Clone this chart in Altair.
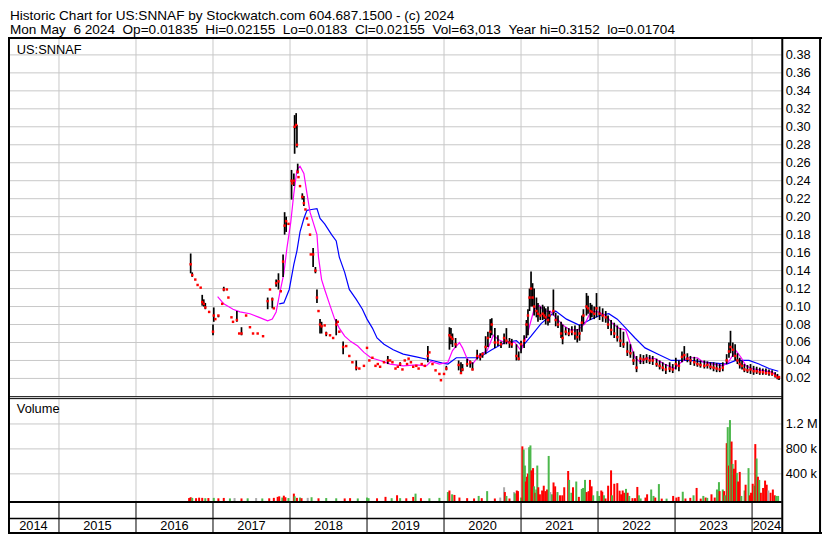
import altair as alt
import pandas as pd

# ---------------- text ----------------
TITLE_LINE_1 = "Historic Chart for US:SNNAF by Stockwatch.com 604.687.1500 - (c) 2024"
TITLE_LINE_2 = ("Mon May  6 2024  Op=0.01835  Hi=0.02155  Lo=0.0183  Cl=0.02155  "
                "Vol=63,013  Year hi=0.3152  lo=0.01704")
SYMBOL = "US:SNNAF"
VOLUME_TITLE = "Volume"

# ---------------- axes ----------------
TIME_DOMAIN = [2014.338, 2024.386]          # decimal years shown (May 2014 - May 2024)
YEARS = [2014, 2015, 2016, 2017, 2018, 2019, 2020, 2021, 2022, 2023, 2024]
PRICE_TICKS = [0.02, 0.04, 0.06, 0.08, 0.10, 0.12, 0.14, 0.16, 0.18, 0.20,
               0.22, 0.24, 0.26, 0.28, 0.30, 0.32, 0.34, 0.36, 0.38]
PRICE_MAX = 0.3987
VOLUME_TICKS = [400000, 800000, 1200000]
VOLUME_TICK_LABELS = ["400 k", "800 k", "1.2 M"]
VOLUME_MAX = 1598000

# ---------------- price bars: (year, high, low, close) ----------------
PRICE_2016 = [
    (2016.71, 0.159, 0.137, 0.147), (2016.73, 0.138, 0.133, 0.135), (2016.77, 0.130, 0.130, 0.130),
    (2016.80, 0.124, 0.124, 0.124), (2016.84, 0.121, 0.121, 0.121), (2016.86, 0.113, 0.101, 0.105),
    (2016.88, 0.108, 0.100, 0.103), (2016.90, 0.104, 0.097, 0.099), (2016.95, 0.094, 0.094, 0.094),
]
PRICE_2017 = [
    (2017.00, 0.080, 0.068, 0.072), (2017.01, 0.099, 0.083, 0.090), (2017.03, 0.086, 0.086, 0.086),
    (2017.07, 0.090, 0.088, 0.090), (2017.12, 0.103, 0.103, 0.103), (2017.14, 0.122, 0.117, 0.119),
    (2017.18, 0.119, 0.119, 0.119), (2017.20, 0.110, 0.110, 0.110), (2017.24, 0.088, 0.088, 0.088),
    (2017.26, 0.083, 0.083, 0.083), (2017.31, 0.095, 0.083, 0.085), (2017.34, 0.070, 0.070, 0.070),
    (2017.37, 0.077, 0.068, 0.070), (2017.43, 0.090, 0.090, 0.090), (2017.48, 0.077, 0.077, 0.077),
    (2017.52, 0.070, 0.070, 0.070), (2017.58, 0.070, 0.070, 0.070), (2017.65, 0.067, 0.067, 0.067),
    (2017.71, 0.110, 0.097, 0.106), (2017.74, 0.119, 0.119, 0.119), (2017.77, 0.110, 0.098, 0.108),
    (2017.79, 0.098, 0.098, 0.098), (2017.82, 0.130, 0.122, 0.126), (2017.85, 0.137, 0.119, 0.128),
    (2017.88, 0.117, 0.117, 0.117), (2017.91, 0.158, 0.133, 0.150), (2017.93, 0.205, 0.180, 0.190),
    (2017.95, 0.200, 0.183, 0.195), (2017.98, 0.192, 0.192, 0.192),
]
PRICE_2018 = [
    (2018.02, 0.252, 0.219, 0.240), (2018.03, 0.237, 0.237, 0.237), (2018.05, 0.248, 0.234, 0.240),
    (2018.06, 0.313, 0.270, 0.300), (2018.08, 0.3152, 0.298, 0.302), (2018.09, 0.302, 0.277, 0.280),
    (2018.10, 0.259, 0.248, 0.250), (2018.11, 0.244, 0.244, 0.244), (2018.13, 0.234, 0.234, 0.234),
    (2018.16, 0.226, 0.219, 0.222), (2018.18, 0.223, 0.212, 0.215), (2018.20, 0.208, 0.208, 0.208),
    (2018.22, 0.198, 0.198, 0.198), (2018.24, 0.191, 0.191, 0.191), (2018.26, 0.180, 0.180, 0.180),
    (2018.27, 0.158, 0.158, 0.158), (2018.30, 0.165, 0.144, 0.158), (2018.33, 0.144, 0.137, 0.140),
    (2018.35, 0.119, 0.104, 0.110), (2018.37, 0.095, 0.095, 0.095), (2018.39, 0.086, 0.070, 0.080),
    (2018.41, 0.083, 0.070, 0.078), (2018.45, 0.079, 0.079, 0.079), (2018.47, 0.072, 0.067, 0.070),
    (2018.52, 0.068, 0.068, 0.068), (2018.56, 0.065, 0.065, 0.065), (2018.60, 0.086, 0.068, 0.080),
    (2018.62, 0.083, 0.083, 0.083), (2018.64, 0.072, 0.072, 0.072), (2018.69, 0.061, 0.047, 0.055),
    (2018.73, 0.056, 0.056, 0.056), (2018.77, 0.045, 0.045, 0.045), (2018.81, 0.038, 0.038, 0.038),
    (2018.86, 0.040, 0.029, 0.032), (2018.90, 0.031, 0.031, 0.031), (2018.96, 0.034, 0.034, 0.034),
]
PRICE_2019 = [
    (2019.00, 0.054, 0.054, 0.054), (2019.03, 0.040, 0.040, 0.040), (2019.07, 0.043, 0.043, 0.043),
    (2019.11, 0.034, 0.034, 0.034), (2019.14, 0.036, 0.036, 0.036), (2019.17, 0.033, 0.033, 0.033),
    (2019.22, 0.038, 0.038, 0.038), (2019.27, 0.045, 0.036, 0.040), (2019.30, 0.040, 0.040, 0.040),
    (2019.33, 0.038, 0.038, 0.038), (2019.37, 0.031, 0.031, 0.031), (2019.40, 0.033, 0.033, 0.033),
    (2019.43, 0.038, 0.034, 0.036), (2019.46, 0.030, 0.030, 0.030), (2019.49, 0.040, 0.040, 0.040),
    (2019.52, 0.036, 0.036, 0.036), (2019.54, 0.042, 0.042, 0.042), (2019.57, 0.038, 0.038, 0.038),
    (2019.60, 0.033, 0.033, 0.033), (2019.64, 0.034, 0.034, 0.034), (2019.67, 0.031, 0.031, 0.031),
    (2019.71, 0.036, 0.036, 0.036), (2019.75, 0.034, 0.034, 0.034), (2019.79, 0.056, 0.038, 0.045),
    (2019.81, 0.049, 0.049, 0.049), (2019.85, 0.036, 0.036, 0.036), (2019.89, 0.029, 0.029, 0.029),
    (2019.94, 0.025, 0.025, 0.025), (2019.96, 0.018, 0.018, 0.018),
]
PRICE_2020 = [
    (2020.00, 0.025, 0.025, 0.025), (2020.03, 0.034, 0.029, 0.031), (2020.07, 0.077, 0.052, 0.068),
    (2020.09, 0.076, 0.058, 0.066), (2020.11, 0.070, 0.055, 0.064), (2020.15, 0.065, 0.054, 0.058),
    (2020.19, 0.040, 0.029, 0.035), (2020.22, 0.038, 0.025, 0.026), (2020.24, 0.036, 0.028, 0.030),
    (2020.30, 0.042, 0.033, 0.036), (2020.34, 0.040, 0.032, 0.038), (2020.37, 0.038, 0.029, 0.030),
    (2020.43, 0.052, 0.041, 0.045), (2020.47, 0.048, 0.040, 0.044), (2020.50, 0.049, 0.043, 0.047),
    (2020.54, 0.067, 0.047, 0.055), (2020.57, 0.072, 0.055, 0.065), (2020.60, 0.086, 0.065, 0.072),
    (2020.62, 0.087, 0.068, 0.080), (2020.66, 0.076, 0.054, 0.060), (2020.70, 0.068, 0.056, 0.060),
    (2020.74, 0.061, 0.054, 0.058), (2020.78, 0.070, 0.058, 0.065), (2020.81, 0.076, 0.058, 0.062),
    (2020.85, 0.065, 0.054, 0.060), (2020.88, 0.064, 0.054, 0.058), (2020.94, 0.058, 0.040, 0.045),
    (2020.97, 0.050, 0.040, 0.042),
]
PRICE_2021 = [
    (2021.00, 0.062, 0.048, 0.058), (2021.04, 0.068, 0.054, 0.062), (2021.07, 0.085, 0.065, 0.080),
    (2021.09, 0.097, 0.068, 0.090), (2021.11, 0.120, 0.095, 0.110), (2021.13, 0.139, 0.100, 0.120),
    (2021.15, 0.126, 0.100, 0.110), (2021.17, 0.120, 0.090, 0.100), (2021.20, 0.110, 0.088, 0.095),
    (2021.22, 0.104, 0.083, 0.092), (2021.25, 0.100, 0.085, 0.090), (2021.28, 0.102, 0.085, 0.092),
    (2021.30, 0.100, 0.086, 0.090), (2021.32, 0.098, 0.080, 0.088), (2021.35, 0.100, 0.079, 0.085),
    (2021.37, 0.095, 0.082, 0.090), (2021.42, 0.119, 0.090, 0.095), (2021.45, 0.093, 0.078, 0.085),
    (2021.48, 0.090, 0.076, 0.080), (2021.52, 0.083, 0.065, 0.070), (2021.54, 0.080, 0.058, 0.065),
    (2021.58, 0.077, 0.068, 0.072), (2021.62, 0.076, 0.067, 0.070), (2021.66, 0.078, 0.068, 0.072),
    (2021.70, 0.079, 0.063, 0.070), (2021.73, 0.075, 0.060, 0.066), (2021.76, 0.080, 0.062, 0.070),
    (2021.79, 0.090, 0.072, 0.082), (2021.81, 0.097, 0.080, 0.090), (2021.85, 0.115, 0.090, 0.100),
    (2021.87, 0.112, 0.092, 0.098), (2021.90, 0.104, 0.085, 0.095), (2021.92, 0.102, 0.088, 0.094),
    (2021.95, 0.100, 0.086, 0.092), (2021.98, 0.115, 0.088, 0.098),
]
PRICE_2022 = [
    (2022.02, 0.100, 0.085, 0.092), (2022.06, 0.098, 0.083, 0.090), (2022.10, 0.095, 0.082, 0.088),
    (2022.13, 0.090, 0.075, 0.080), (2022.17, 0.085, 0.068, 0.074), (2022.21, 0.082, 0.065, 0.070),
    (2022.25, 0.079, 0.061, 0.066), (2022.29, 0.076, 0.055, 0.062), (2022.33, 0.072, 0.054, 0.058),
    (2022.38, 0.061, 0.045, 0.050), (2022.42, 0.058, 0.043, 0.048), (2022.46, 0.050, 0.035, 0.040),
    (2022.50, 0.045, 0.027, 0.032), (2022.55, 0.047, 0.036, 0.042), (2022.59, 0.046, 0.036, 0.041),
    (2022.63, 0.047, 0.037, 0.042), (2022.67, 0.046, 0.036, 0.040), (2022.71, 0.045, 0.035, 0.040),
    (2022.76, 0.042, 0.033, 0.036), (2022.80, 0.040, 0.030, 0.034), (2022.84, 0.038, 0.028, 0.032),
    (2022.88, 0.036, 0.025, 0.030), (2022.93, 0.038, 0.027, 0.031), (2022.97, 0.036, 0.026, 0.030),
]
PRICE_2023 = [
    (2023.01, 0.043, 0.030, 0.036), (2023.05, 0.040, 0.028, 0.034), (2023.09, 0.050, 0.038, 0.044),
    (2023.12, 0.056, 0.040, 0.046), (2023.16, 0.048, 0.038, 0.042), (2023.20, 0.045, 0.035, 0.040),
    (2023.25, 0.044, 0.034, 0.038), (2023.29, 0.042, 0.033, 0.036), (2023.33, 0.040, 0.032, 0.035),
    (2023.38, 0.040, 0.031, 0.034), (2023.42, 0.039, 0.031, 0.035), (2023.46, 0.038, 0.030, 0.033),
    (2023.50, 0.038, 0.028, 0.032), (2023.54, 0.037, 0.027, 0.031), (2023.58, 0.036, 0.027, 0.030),
    (2023.62, 0.038, 0.028, 0.032), (2023.67, 0.047, 0.036, 0.040), (2023.70, 0.060, 0.043, 0.050),
    (2023.72, 0.073, 0.048, 0.055), (2023.75, 0.060, 0.044, 0.052), (2023.78, 0.058, 0.040, 0.045),
    (2023.81, 0.048, 0.036, 0.040), (2023.84, 0.043, 0.031, 0.036), (2023.87, 0.040, 0.030, 0.034),
    (2023.90, 0.036, 0.027, 0.030), (2023.94, 0.035, 0.026, 0.029), (2023.98, 0.036, 0.025, 0.030),
]
PRICE_2024 = [
    (2024.02, 0.034, 0.024, 0.028), (2024.06, 0.033, 0.025, 0.028), (2024.10, 0.032, 0.024, 0.027),
    (2024.14, 0.031, 0.024, 0.027), (2024.18, 0.031, 0.024, 0.026), (2024.22, 0.030, 0.023, 0.026),
    (2024.26, 0.029, 0.023, 0.025), (2024.30, 0.027, 0.021, 0.023), (2024.33, 0.025, 0.019, 0.021),
    (2024.35, 0.02155, 0.0183, 0.02155),
]

# ---------------- moving averages: (year, value) ----------------
MA_SHORT = [
    (2017.06, 0.111), (2017.14, 0.103), (2017.26, 0.097), (2017.35, 0.094), (2017.48, 0.092),
    (2017.60, 0.088), (2017.71, 0.084), (2017.77, 0.086), (2017.82, 0.094), (2017.86, 0.112),
    (2017.92, 0.137), (2017.96, 0.165), (2018.01, 0.194), (2018.05, 0.226), (2018.09, 0.252),
    (2018.13, 0.256), (2018.18, 0.248), (2018.22, 0.226), (2018.26, 0.205), (2018.30, 0.194),
    (2018.35, 0.180), (2018.37, 0.155), (2018.41, 0.130), (2018.45, 0.119), (2018.52, 0.101),
    (2018.58, 0.086), (2018.64, 0.076), (2018.71, 0.067), (2018.79, 0.061), (2018.88, 0.056),
    (2018.96, 0.049), (2019.05, 0.043), (2019.17, 0.040), (2019.30, 0.036), (2019.47, 0.034),
    (2019.64, 0.035), (2019.77, 0.034), (2019.83, 0.039), (2019.94, 0.036), (2020.05, 0.038),
    (2020.11, 0.051), (2020.20, 0.060), (2020.24, 0.054), (2020.30, 0.042), (2020.37, 0.036),
    (2020.45, 0.045), (2020.56, 0.051), (2020.64, 0.068), (2020.71, 0.063), (2020.79, 0.060),
    (2020.92, 0.060), (2021.00, 0.051), (2021.09, 0.072), (2021.17, 0.097), (2021.24, 0.101),
    (2021.30, 0.095), (2021.38, 0.095), (2021.47, 0.086), (2021.55, 0.079), (2021.64, 0.074),
    (2021.74, 0.074), (2021.83, 0.081), (2021.91, 0.095), (2022.00, 0.094), (2022.10, 0.090),
    (2022.19, 0.081), (2022.27, 0.076), (2022.36, 0.074), (2022.42, 0.058), (2022.48, 0.043),
    (2022.55, 0.038), (2022.63, 0.043), (2022.74, 0.042), (2022.86, 0.036), (2022.99, 0.031),
    (2023.05, 0.036), (2023.16, 0.043), (2023.29, 0.043), (2023.37, 0.038), (2023.50, 0.036),
    (2023.62, 0.034), (2023.69, 0.038), (2023.79, 0.051), (2023.86, 0.043), (2023.92, 0.034),
    (2024.00, 0.031), (2024.13, 0.029), (2024.26, 0.027), (2024.34, 0.022),
]
MA_LONG = [
    (2017.86, 0.103), (2017.92, 0.104), (2017.99, 0.119), (2018.05, 0.147), (2018.09, 0.162),
    (2018.13, 0.183), (2018.18, 0.198), (2018.22, 0.207), (2018.28, 0.208), (2018.35, 0.209),
    (2018.39, 0.198), (2018.45, 0.192), (2018.54, 0.180), (2018.60, 0.173), (2018.64, 0.155),
    (2018.71, 0.138), (2018.77, 0.119), (2018.86, 0.108), (2018.94, 0.097), (2019.00, 0.086),
    (2019.07, 0.076), (2019.13, 0.065), (2019.22, 0.058), (2019.34, 0.052), (2019.47, 0.047),
    (2019.64, 0.044), (2019.85, 0.040), (2019.98, 0.037), (2020.05, 0.036), (2020.16, 0.043),
    (2020.45, 0.043), (2020.62, 0.052), (2020.79, 0.060), (2020.94, 0.062), (2021.02, 0.056),
    (2021.13, 0.067), (2021.26, 0.081), (2021.45, 0.095), (2021.59, 0.086), (2021.76, 0.079),
    (2021.89, 0.085), (2022.02, 0.090), (2022.14, 0.092), (2022.25, 0.086), (2022.36, 0.076),
    (2022.48, 0.065), (2022.61, 0.054), (2022.78, 0.047), (2022.95, 0.040), (2023.20, 0.040),
    (2023.41, 0.038), (2023.67, 0.036), (2023.79, 0.040), (2023.96, 0.040), (2024.09, 0.036),
    (2024.22, 0.031), (2024.34, 0.028),
]

# ---------------- volume: (year, shares, direction u=up d=down n=unchanged) ----------------
VOLUME_2016_2019 = [
    (2016.69, 12000, "d"), (2016.71, 25000, "d"), (2016.73, 15000, "u"), (2016.78, 10000, "d"),
    (2016.82, 18000, "d"), (2016.86, 15000, "d"), (2016.90, 10000, "u"), (2016.94, 12000, "d"),
    (2017.01, 15000, "u"), (2017.07, 8000, "d"), (2017.14, 14000, "d"), (2017.22, 6000, "u"),
    (2017.28, 12000, "n"), (2017.37, 6000, "d"), (2017.45, 8000, "u"), (2017.56, 12000, "n"),
    (2017.64, 6000, "u"), (2017.73, 8000, "d"), (2017.79, 15000, "d"), (2017.84, 31000, "d"),
    (2017.86, 40000, "d"), (2017.90, 20000, "u"), (2017.92, 50000, "d"), (2017.94, 25000, "d"),
    (2017.98, 12000, "u"), (2018.05, 83000, "d"), (2018.06, 40000, "u"), (2018.09, 15000, "d"),
    (2018.13, 20000, "u"), (2018.15, 10000, "d"), (2018.23, 15000, "n"), (2018.28, 25000, "u"),
    (2018.37, 8000, "d"), (2018.47, 12000, "u"), (2018.60, 8000, "u"), (2018.71, 6000, "d"),
    (2018.78, 10000, "d"), (2018.88, 6000, "u"), (2019.00, 20000, "u"), (2019.02, 10000, "u"),
    (2019.13, 8000, "d"), (2019.24, 31000, "d"), (2019.32, 10000, "u"), (2019.39, 57000, "d"),
    (2019.43, 10000, "u"), (2019.51, 8000, "d"), (2019.60, 30000, "d"), (2019.63, 83000, "u"),
    (2019.70, 10000, "d"), (2019.81, 8000, "u"), (2019.94, 15000, "u"),
]
VOLUME_2020 = [
    (2020.05, 108000, "u"), (2020.07, 133000, "d"), (2020.105, 72000, "u"), (2020.135, 62000, "d"),
    (2020.20, 20000, "d"), (2020.30, 10000, "d"), (2020.39, 6000, "d"), (2020.45, 46000, "u"),
    (2020.49, 10000, "d"), (2020.56, 123000, "u"), (2020.66, 5000, "d"), (2020.73, 20000, "n"),
    (2020.78, 185000, "n"), (2020.79, 108000, "d"), (2020.81, 46000, "u"), (2020.85, 5000, "d"),
    (2020.91, 108000, "n"), (2020.92, 87000, "u"), (2020.945, 133000, "d"), (2020.96, 123000, "d"),
    (2021.00, 20000, "u"),
]
VOLUME_2021 = [
    (2021.017, 841000, "d"), (2021.034, 790000, "u"), (2021.05, 533000, "u"), (2021.063, 277000, "d"),
    (2021.076, 354000, "d"), (2021.089, 405000, "d"), (2021.105, 826000, "u"), (2021.122, 856000, "u"),
    (2021.135, 456000, "d"), (2021.156, 492000, "d"), (2021.169, 200000, "u"), (2021.186, 97000, "d"),
    (2021.198, 149000, "u"), (2021.211, 533000, "u"), (2021.224, 185000, "d"), (2021.245, 72000, "d"),
    (2021.274, 133000, "d"), (2021.295, 210000, "d"), (2021.316, 123000, "d"), (2021.338, 149000, "d"),
    (2021.359, 687000, "u"), (2021.38, 108000, "n"), (2021.401, 72000, "u"), (2021.422, 262000, "d"),
    (2021.443, 200000, "d"), (2021.473, 108000, "u"), (2021.506, 56000, "d"), (2021.536, 56000, "d"),
    (2021.561, 185000, "d"), (2021.612, 446000, "d"), (2021.624, 303000, "u"), (2021.654, 97000, "u"),
    (2021.675, 185000, "d"), (2021.717, 277000, "u"), (2021.751, 31000, "d"), (2021.789, 159000, "u"),
    (2021.806, 174000, "u"), (2021.831, 303000, "u"), (2021.852, 108000, "d"), (2021.878, 123000, "d"),
    (2021.895, 303000, "d"), (2021.916, 200000, "d"), (2021.937, 56000, "u"), (2021.992, 123000, "u"),
]
VOLUME_2022 = [
    (2022.013, 46000, "u"), (2022.042, 133000, "d"), (2022.055, 113000, "d"), (2022.076, 56000, "u"),
    (2022.097, 5000, "d"), (2022.131, 210000, "d"), (2022.169, 456000, "d"), (2022.181, 56000, "u"),
    (2022.211, 241000, "d"), (2022.25, 251000, "d"), (2022.28, 130000, "d"), (2022.30, 72000, "d"),
    (2022.32, 133000, "d"), (2022.34, 97000, "d"), (2022.363, 159000, "u"), (2022.384, 97000, "d"),
    (2022.405, 46000, "u"), (2022.447, 10000, "d"), (2022.48, 10000, "d"), (2022.51, 190000, "d"),
    (2022.53, 56000, "u"), (2022.553, 5000, "u"), (2022.616, 20000, "d"), (2022.637, 72000, "d"),
    (2022.69, 149000, "u"), (2022.72, 46000, "u"), (2022.743, 20000, "d"), (2022.79, 236000, "u"),
    (2022.827, 3000, "d"), (2022.89, 3000, "u"), (2022.975, 46000, "d"),
]
VOLUME_2023 = [
    (2023.017, 20000, "d"), (2023.046, 31000, "d"), (2023.10, 113000, "u"), (2023.135, 5000, "d"),
    (2023.198, 15000, "d"), (2023.24, 56000, "u"), (2023.28, 174000, "d"), (2023.333, 3000, "d"),
    (2023.367, 46000, "u"), (2023.397, 20000, "d"), (2023.418, 15000, "u"), (2023.473, 72000, "d"),
    (2023.515, 20000, "d"), (2023.544, 149000, "u"), (2023.57, 267000, "u"), (2023.578, 123000, "d"),
    (2023.62, 149000, "u"), (2023.637, 123000, "d"), (2023.65, 56000, "u"), (2023.671, 892000, "d"),
    (2023.684, 1149000, "u"), (2023.70, 533000, "d"), (2023.713, 1262000, "u"), (2023.734, 918000, "d"),
    (2023.747, 559000, "u"), (2023.764, 482000, "d"), (2023.785, 620000, "d"), (2023.802, 415000, "u"),
    (2023.819, 277000, "d"), (2023.84, 431000, "d"), (2023.861, 46000, "u"), (2023.903, 133000, "u"),
    (2023.916, 226000, "d"), (2023.954, 492000, "u"), (2023.97, 56000, "d"), (2023.987, 97000, "d"),
]
VOLUME_2024 = [
    (2024.008, 241000, "d"), (2024.03, 210000, "u"), (2024.042, 877000, "d"), (2024.059, 646000, "u"),
    (2024.076, 354000, "d"), (2024.093, 303000, "u"), (2024.114, 97000, "d"), (2024.143, 174000, "d"),
    (2024.169, 292000, "d"), (2024.19, 226000, "d"), (2024.211, 133000, "n"), (2024.24, 97000, "d"),
    (2024.27, 149000, "d"), (2024.295, 56000, "d"), (2024.312, 46000, "u"), (2024.338, 46000, "u"),
]

# ---------------- layout (reference pixels scaled into the 814x527 drawing) ----------------
W, H = 814, 527
SX, SY = W / 830, H / 543


def px(v):
    return round(v * SX, 2)


def py(v):
    return round(v * SY, 2)


FONT = "Liberation Sans"
FS = 12.8
FS_HEAD = 13.6
GRID = "#c8c8c8"
RED = "#ff0000"
GREEN = "#4cb84c"
GRAY = "#aaaaaa"

xs = alt.Scale(domain=TIME_DOMAIN, range=[px(0), px(789)], nice=False, zero=False)
ps = alt.Scale(domain=[0, PRICE_MAX], range=[py(400.2), py(31)], nice=False, zero=False)
vs = alt.Scale(domain=[0, VOLUME_MAX], range=[py(505.7), py(403)], nice=False, zero=False)

price_df = pd.DataFrame(
    PRICE_2016 + PRICE_2017 + PRICE_2018 + PRICE_2019 + PRICE_2020
    + PRICE_2021 + PRICE_2022 + PRICE_2023 + PRICE_2024,
    columns=["t", "hi", "lo", "cl"])
ma_short_df = pd.DataFrame(MA_SHORT, columns=["t", "v"])
ma_long_df = pd.DataFrame(MA_LONG, columns=["t", "v"])
vol_df = pd.DataFrame(
    VOLUME_2016_2019 + VOLUME_2020 + VOLUME_2021 + VOLUME_2022 + VOLUME_2023 + VOLUME_2024,
    columns=["t", "vol", "dir"])

price_tick_df = pd.DataFrame({"v": PRICE_TICKS, "label": [f"{v:.2f}" for v in PRICE_TICKS]})
vol_tick_df = pd.DataFrame({"v": VOLUME_TICKS, "label": VOLUME_TICK_LABELS})
year_line_df = pd.DataFrame({"yr": YEARS[1:]})
year_label_df = pd.DataFrame({
    "label": [str(y) for y in YEARS],
    "mid": [(max(y, TIME_DOMAIN[0]) + min(y + 1, TIME_DOMAIN[1])) / 2 for y in YEARS],
})
ONE = pd.DataFrame({"k": [0]})


def xq(field):
    return alt.X(f"{field}:Q", scale=xs, axis=None)


def hrule(y, x1, x2, width=1.0, color="black"):
    return alt.Chart(ONE).mark_rule(color=color, strokeWidth=width).encode(
        x=alt.value(px(x1)), x2=alt.value(px(x2)), y=alt.value(py(y)))


def vrule(x, y1, y2, width=1.0, color="black"):
    return alt.Chart(ONE).mark_rule(color=color, strokeWidth=width).encode(
        x=alt.value(px(x)), y=alt.value(py(y1)), y2=alt.value(py(y2)))


def label(text, x, y, size=FS):
    return alt.Chart(pd.DataFrame({"s": [text]})).mark_text(
        align="left", baseline="alphabetic", font=FONT, fontSize=size, color="black"
    ).encode(x=alt.value(px(x)), y=alt.value(py(y)), text="s:N")


# grids
price_hgrid = alt.Chart(price_tick_df).mark_rule(color=GRID, strokeWidth=1).encode(
    y=alt.Y("v:Q", scale=ps, axis=None), x=alt.value(px(2)), x2=alt.value(px(789)))
price_vgrid = alt.Chart(year_line_df).mark_rule(color=GRID, strokeWidth=1).encode(
    x=xq("yr"), y=alt.value(py(32)), y2=alt.value(py(400)))
vol_hgrid = alt.Chart(vol_tick_df).mark_rule(color=GRID, strokeWidth=1).encode(
    y=alt.Y("v:Q", scale=vs, axis=None), x=alt.value(px(2)), x2=alt.value(px(789)))
vol_vgrid = alt.Chart(year_line_df).mark_rule(color=GRID, strokeWidth=1).encode(
    x=xq("yr"), y=alt.value(py(403)), y2=alt.value(py(509)))
row_vlines = alt.Chart(year_line_df).mark_rule(color="black", strokeWidth=1).encode(
    x=xq("yr"), y=alt.value(py(509)), y2=alt.value(py(541)))

# moving averages
ma_short = alt.Chart(ma_short_df).mark_line(color="#ff00ff", strokeWidth=1.2).encode(
    x=xq("t"), y=alt.Y("v:Q", scale=ps, axis=None))
ma_long = alt.Chart(ma_long_df).mark_line(color="#0000ff", strokeWidth=1.2).encode(
    x=xq("t"), y=alt.Y("v:Q", scale=ps, axis=None))

# price bars
hl_bars = alt.Chart(price_df).mark_rule(color="black", strokeWidth=1.7).encode(
    x=xq("t"), y=alt.Y("hi:Q", scale=ps, axis=None), y2="lo:Q")
closes = alt.Chart(price_df).mark_square(color=RED, size=6, opacity=1).encode(
    x=xq("t"), y=alt.Y("cl:Q", scale=ps, axis=None))

# volume bars
vol_bars = alt.Chart(vol_df).mark_rule(strokeWidth=2).encode(
    x=xq("t"),
    y=alt.Y("vol:Q", scale=vs, axis=None),
    y2=alt.value(py(509)),
    color=alt.Color("dir:N", scale=alt.Scale(domain=["u", "d", "n"], range=[GREEN, RED, GRAY]),
                    legend=None),
)

# axis labels
price_labels = alt.Chart(price_tick_df).mark_text(
    align="left", baseline="middle", font=FONT, fontSize=FS, color="black").encode(
    x=alt.value(px(793)), y=alt.Y("v:Q", scale=ps, axis=None), text="label:N")
vol_labels = alt.Chart(vol_tick_df).mark_text(
    align="left", baseline="middle", font=FONT, fontSize=FS, color="black").encode(
    x=alt.value(px(793)), y=alt.Y("v:Q", scale=vs, axis=None), text="label:N")
year_labels = alt.Chart(year_label_df).mark_text(
    align="center", baseline="middle", font=FONT, fontSize=FS, color="black").encode(
    x=xq("mid"), y=alt.value(py(534)), text="label:N")

nb = lambda s: s.replace("  ", " \u00a0")

layers = [
    price_hgrid, price_vgrid, vol_hgrid, vol_vgrid, row_vlines,
    vol_bars, ma_long, ma_short, hl_bars, closes,
    price_labels, vol_labels, year_labels,
    label(TITLE_LINE_1, 2, 12, FS_HEAD),
    label(nb(TITLE_LINE_2), 2, 26.5, FS_HEAD),
    label(SYMBOL, 9, 47.5),
    label(VOLUME_TITLE, 9, 417.5),
    # frame
    hrule(31, 0, 830, 2),
    hrule(400.5, 0, 789, 1),
    hrule(402.5, 0, 789, 1),
    hrule(509, 0, 789, 2),
    hrule(526, 0, 789, 1.5),
    hrule(541, 0, 830, 2),
    vrule(1, 31, 542, 2),
    vrule(789.5, 31, 542, 2),
    vrule(828, 31, 542, 2),
]

chart = alt.layer(*layers).resolve_scale(y="independent").properties(
    width=W, height=H, padding=0,
    autosize=alt.AutoSizeParams(type="none"),
    background="white",
).configure_view(stroke=None)

chart.save("out.html", embed_options={"renderer": "svg", "actions": False})
